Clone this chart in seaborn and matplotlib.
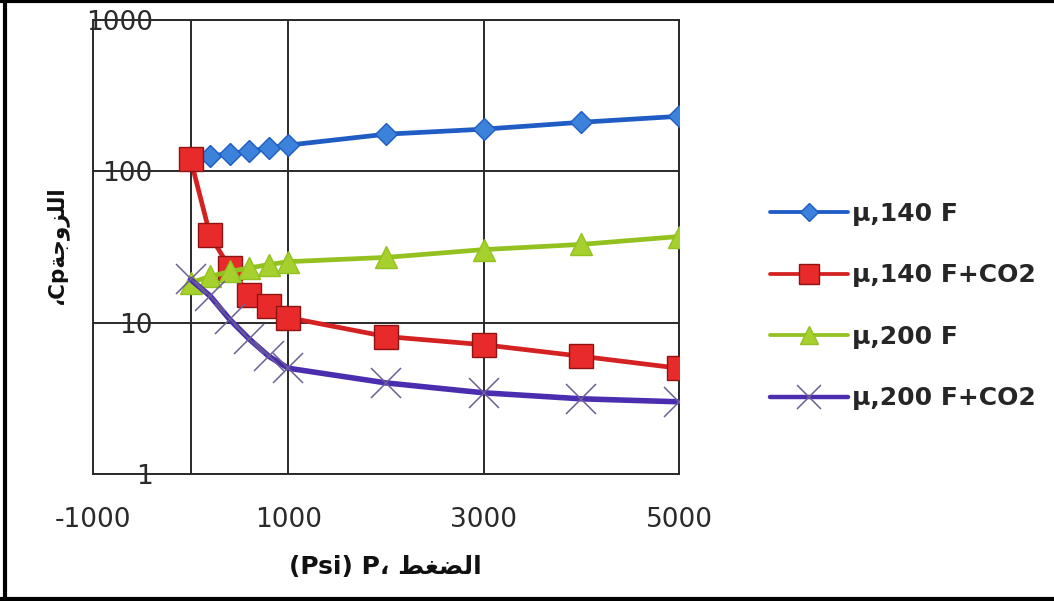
import matplotlib
matplotlib.use("Agg")
import matplotlib.pyplot as plt
import matplotlib.ticker as mticker
from matplotlib.lines import Line2D
import seaborn as sns
import pandas as pd

# ---- data ----
pressure = [0, 200, 400, 600, 800, 1000, 2000, 3000, 4000, 5000]
mu_140 = [120, 126, 131, 136, 142, 149, 176, 190, 211, 231]
mu_140_co2 = [120, 37.7, 23, 15.3, 12.8, 10.8, 8.1, 7.15, 6.0, 5.0]
mu_200 = [18.4, 20.2, 21.8, 23, 24.2, 25.3, 27, 30.4, 32.9, 37.1]
mu_200_co2 = [19.3, 15, 10.5, 7.8, 6.0, 5.0, 4.0, 3.44, 3.14, 3.0]

series_labels = ["μ,140 F", "μ,140 F+CO2", "μ,200 F", "μ,200 F+CO2"]
x_ticks = [-1000, 1000, 3000, 5000]
y_ticks = [1, 10, 100, 1000]

# Arabic text written in presentation forms, visual order
xlabel = "(Psi) P\u060C " + "\uFEC2\uFED0\uFEC0\uFEDF\uFE8D"          # الضغط
ylabel = "\u060CCp" + "\uFE94\uFE9F\uFEED\uFEB0\uFEE0\uFEDF\uFE8D"      # اللزوجة

sns.set_style("white")
plt.rcParams["font.family"] = ["DejaVu Sans"]

fig = plt.figure(figsize=(10.54, 6.01), dpi=100)
ax = fig.add_axes([0.0882, 0.2113, 0.5560, 0.7554])

styles = [
    dict(marker="D", color="#1F5CC4", mfc="#3C82DA", mec="#1F5CC4", ms=11, lw=3.4),
    dict(marker="s", color="#D42222", mfc="#E82A2A", mec="#8E1414", ms=17, lw=3.4, mew=1.0),
    dict(marker="^", color="#93C11F", mfc="#A6D02E", mec="#93C11F", ms=16, lw=3.4),
    dict(marker="x", color="#4B2DB0", mfc="none", mec="#6B5F95", ms=21, lw=4.0, mew=1.1),
]
data_list = [mu_140, mu_140_co2, mu_200, mu_200_co2]

for vals, lab, st in zip(data_list, series_labels, styles):
    df = pd.DataFrame({"P": pressure, "mu": vals})
    sns.lineplot(data=df, x="P", y="mu", ax=ax, label=lab, legend=False,
                 marker=st["marker"], color=st["color"],
                 markerfacecolor=st["mfc"], markeredgecolor=st["mec"],
                 markersize=st["ms"], linewidth=st["lw"],
                 markeredgewidth=st.get("mew", 1.0), zorder=3)

ax.set_yscale("log")
ax.set_ylim(1, 1000)
ax.set_xlim(-1000, 5000)
ax.yaxis.set_major_locator(mticker.FixedLocator(y_ticks))
ax.yaxis.set_major_formatter(mticker.FixedFormatter([str(v) for v in y_ticks]))
ax.yaxis.set_minor_locator(mticker.NullLocator())
ax.xaxis.set_major_locator(mticker.FixedLocator(x_ticks))
ax.xaxis.set_major_formatter(mticker.FixedFormatter([str(v) for v in x_ticks]))

ax.grid(True, which="major", color="#2a2a2a", lw=1.4, zorder=1)
ax.axvline(0, color="#2a2a2a", lw=1.4, zorder=1)
for sp in ax.spines.values():
    sp.set_color("#2a2a2a")
    sp.set_linewidth(1.4)

ax.tick_params(axis="y", length=0, pad=-43, labelsize=19, colors="#2a2a2a")
ax.tick_params(axis="x", length=0, pad=24, labelsize=19, colors="#2a2a2a")
for t in ax.get_yticklabels():
    t.set_horizontalalignment("right")
ax.set_xlabel("")
ax.set_ylabel("")

fig.text(385 / 1054, 1 - 567 / 601, xlabel, ha="center", va="center",
         fontsize=18, fontweight="bold", color="#111111")
fig.text(57 / 1054, 1 - 245 / 601, ylabel, ha="center", va="center",
         rotation=90, fontsize=15.5, fontweight="bold", color="#111111")

handles = [Line2D([], [], marker=st["marker"], color=st["color"],
                  markerfacecolor=st["mfc"], markeredgecolor=st["mec"],
                  markersize=st["ms"] * 0.85, linewidth=st["lw"] * 0.8,
                  markeredgewidth=st.get("mew", 1.0)) for st in styles]
fig.legend(handles, series_labels, loc="center left",
           bbox_to_anchor=(770 / 1054, 1 - 306 / 601), frameon=False,
           borderpad=0, borderaxespad=0, handlelength=3.1, handletextpad=0.2,
           labelspacing=1.5, prop={"size": 18, "weight": "bold"})

# outer frame
fig.add_artist(Line2D([5 / 1054, 5 / 1054], [0, 1], transform=fig.transFigure, color="black", lw=3))
fig.add_artist(Line2D([0, 1], [1 - 1 / 601, 1 - 1 / 601], transform=fig.transFigure, color="black", lw=3))
fig.add_artist(Line2D([0, 1], [2 / 601, 2 / 601], transform=fig.transFigure, color="black", lw=3))

fig.savefig("out.png", dpi=100, facecolor="white")
